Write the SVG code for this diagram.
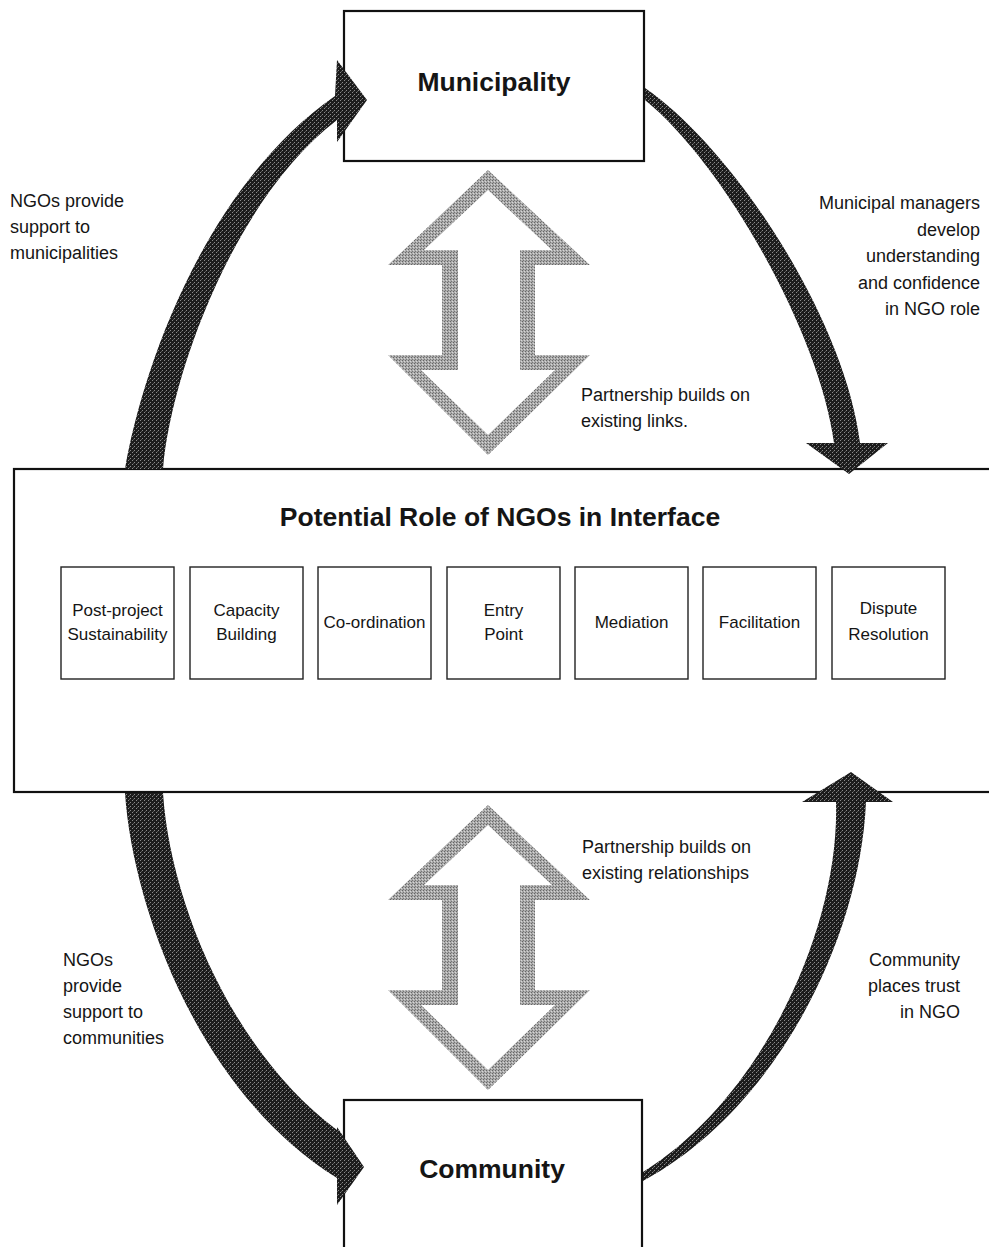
<svg xmlns="http://www.w3.org/2000/svg" width="989" height="1247" viewBox="0 0 989 1247">
<defs>
<style>
.frame{fill:#fff;stroke:#111;stroke-width:2.2}
.sub{fill:#fff;stroke:#222;stroke-width:1.4}
.t{font-family:"Liberation Sans",Arial,sans-serif;fill:#151515}
.lbl{font-size:18px}
.bx{font-size:17px;text-anchor:middle}
.ttl{font-size:26.5px;font-weight:bold;text-anchor:middle}
.end{text-anchor:end}
.dark{fill:url(#dk)}
.grey{fill:url(#lt);fill-rule:evenodd}
</style>
<pattern id="dk" width="4" height="4" patternUnits="userSpaceOnUse">
<rect width="4" height="4" fill="#1c1c1c"/>
<rect x="0" y="0" width="1" height="1" fill="#8a8a8a"/>
<rect x="2" y="2" width="1" height="1" fill="#8a8a8a"/>
<rect x="1" y="3" width="1" height="1" fill="#555"/>
</pattern>
<pattern id="lt" width="3" height="3" patternUnits="userSpaceOnUse">
<rect width="3" height="3" fill="#ababab"/>
<rect x="0" y="0" width="1" height="1" fill="#666"/>
<rect x="2" y="1" width="1" height="1" fill="#d6d6d6"/>
<rect x="1" y="2" width="1" height="1" fill="#777"/>
</pattern>
<path id="dbl" d="M488,170 L590,265 L535,265 L535,355 L590,355 L488,455 L388,355 L442,355 L442,265 L388,265 Z M488,190 L424,250 L458,250 L458,370 L421,370 L488,435 L555,370 L520,370 L520,250 L552,250 Z"/>
</defs>

<g id="node-municipality">
<rect class="frame" x="344" y="11" width="300" height="150"/>
<text class="t ttl" x="494" y="91">Municipality</text>
</g>

<g id="node-interface">
<rect class="frame" x="14" y="469" width="990" height="323"/>
<text class="t ttl" x="500" y="526">Potential Role of NGOs in Interface</text>
</g>

<g id="node-post-project">
<rect class="sub" x="61" y="567" width="113" height="112"/>
<text class="t bx" x="117.5" y="616">Post-project</text>
<text class="t bx" x="117.5" y="640">Sustainability</text>
</g>
<g id="node-capacity">
<rect class="sub" x="190" y="567" width="113" height="112"/>
<text class="t bx" x="246.5" y="616">Capacity</text>
<text class="t bx" x="246.5" y="640">Building</text>
</g>
<g id="node-coordination">
<rect class="sub" x="318" y="567" width="113" height="112"/>
<text class="t bx" x="374.5" y="628">Co-ordination</text>
</g>
<g id="node-entry">
<rect class="sub" x="447" y="567" width="113" height="112"/>
<text class="t bx" x="503.5" y="616">Entry</text>
<text class="t bx" x="503.5" y="640">Point</text>
</g>
<g id="node-mediation">
<rect class="sub" x="575" y="567" width="113" height="112"/>
<text class="t bx" x="631.5" y="628">Mediation</text>
</g>
<g id="node-facilitation">
<rect class="sub" x="703" y="567" width="113" height="112"/>
<text class="t bx" x="759.5" y="628">Facilitation</text>
</g>
<g id="node-dispute">
<rect class="sub" x="832" y="567" width="113" height="112"/>
<text class="t bx" x="888.5" y="614">Dispute</text>
<text class="t bx" x="888.5" y="640">Resolution</text>
</g>

<g id="node-community">
<rect class="frame" x="344" y="1100" width="298" height="170"/>
<text class="t ttl" x="492" y="1178">Community</text>
</g>

<g id="connectors">
<!-- top-left: interface -> municipality -->
<path class="dark" d="M125,469 C140,380 200,190 335,96 L337,60 L367,100 L337,142 L337,120 C232,200 170,380 163,469 Z"/>
<!-- top-right: municipality -> interface -->
<path class="dark" d="M645,88 C735,150 845,320 860,443 L888,443 L849,474 L806,443 L834,443 C820,335 725,165 645,100 Z"/>
<!-- bottom-left: interface -> community -->
<path class="dark" d="M125,793 C132,900 195,1090 337,1178 L337,1205 L364,1167 L337,1127 L337,1130 C230,1050 170,900 163,793 Z"/>
<!-- bottom-right: community -> interface -->
<path class="dark" d="M643,1172 C760,1100 840,930 836,802 L802,802 L851,772 L893,802 L866,802 C860,940 775,1110 643,1181 Z"/>
<!-- double arrows -->
<use href="#dbl" class="grey"/>
<use href="#dbl" class="grey" transform="translate(0,635)"/>
</g>

<g id="labels">
<text class="t lbl" x="10" y="207">NGOs provide</text>
<text class="t lbl" x="10" y="233">support to</text>
<text class="t lbl" x="10" y="259">municipalities</text>

<text class="t lbl end" x="980" y="209">Municipal managers</text>
<text class="t lbl end" x="980" y="235.5">develop</text>
<text class="t lbl end" x="980" y="262">understanding</text>
<text class="t lbl end" x="980" y="288.5">and confidence</text>
<text class="t lbl end" x="980" y="315">in NGO role</text>

<text class="t lbl" x="581" y="401">Partnership builds on</text>
<text class="t lbl" x="581" y="427">existing links.</text>

<text class="t lbl" x="582" y="853">Partnership builds on</text>
<text class="t lbl" x="582" y="879">existing relationships</text>

<text class="t lbl" x="63" y="966">NGOs</text>
<text class="t lbl" x="63" y="992">provide</text>
<text class="t lbl" x="63" y="1018">support to</text>
<text class="t lbl" x="63" y="1044">communities</text>

<text class="t lbl end" x="960" y="966">Community</text>
<text class="t lbl end" x="960" y="992">places trust</text>
<text class="t lbl end" x="960" y="1018">in NGO</text>
</g>
</svg>
